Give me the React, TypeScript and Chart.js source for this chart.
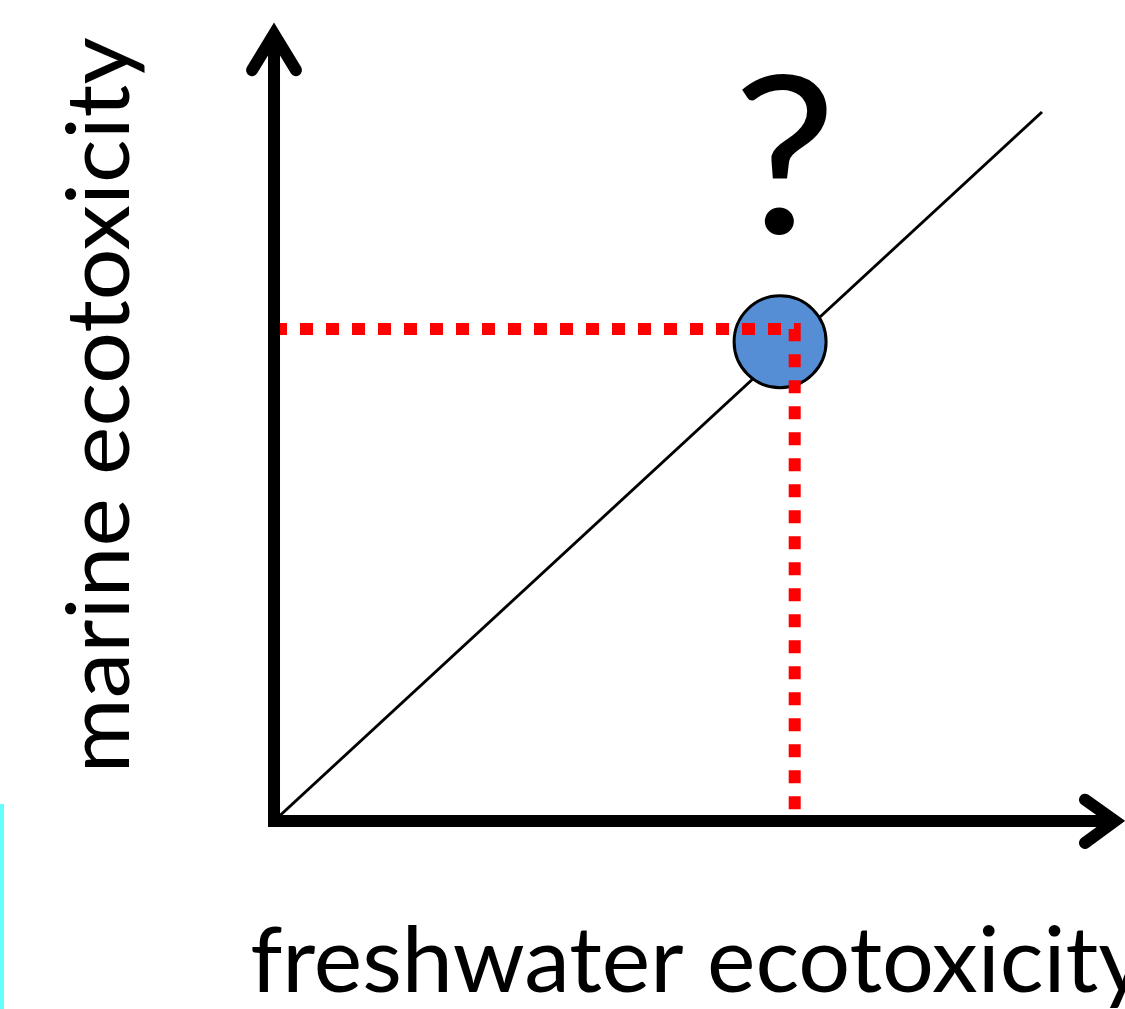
import React, { useEffect, useRef } from "react";
import { Chart, registerables } from "chart.js";

Chart.register(...registerables);

// ---- data (conceptual diagram: marine vs freshwater ecotoxicity) ----
const diagonalX = [0, 10];
const diagonalY = [0, 10];
const pointX = [6.59];
const pointY = [6.76];
const guideX = [0, 6.78, 6.78];
const guideY = [6.94, 6.94, 0];
const axisLineX = [0, 0, 10.95];
const axisLineY = [11.1, 0, 0];
const yArrowX = [-0.286, 0, 0.286];
const yArrowY = [10.59, 11.1, 10.59];
const xArrowX = [10.56, 10.95, 10.56];
const xArrowY = [0.3, 0, -0.31];
const xTitle = "freshwater ecotoxicity";
const yTitle = "marine ecotoxicity";
const annotationText = "?";

const toPts = (xs: number[], ys: number[]) => xs.map((x, i) => ({ x, y: ys[i] }));

const FONT = "Lato, 'Open Sans', sans-serif";

function fitText(
  ctx: CanvasRenderingContext2D,
  text: string,
  width: number,
  ascent: number
) {
  const size = 100;
  ctx.font = `${size}px ${FONT}`;
  ctx.textAlign = "left";
  ctx.textBaseline = "alphabetic";
  const m = ctx.measureText(text);
  const w = m.actualBoundingBoxLeft + m.actualBoundingBoxRight;
  const a = m.actualBoundingBoxAscent;
  ctx.save();
  ctx.scale(width / w, ascent / a);
  ctx.fillText(text, m.actualBoundingBoxLeft, 0);
  ctx.restore();
}

const decorPlugin = {
  id: "decor",
  beforeDraw(chart: any) {
    const ctx = chart.ctx as CanvasRenderingContext2D;
    ctx.save();
    ctx.fillStyle = "#ffffff";
    ctx.fillRect(0, 0, chart.width, chart.height);
    ctx.fillStyle = "#66ffff";
    ctx.fillRect(0, 804, 4, chart.height - 804);
    ctx.restore();
  },
  afterDraw(chart: any) {
    const ctx = chart.ctx as CanvasRenderingContext2D;
    ctx.save();
    ctx.fillStyle = "#000000";
    // x-axis title
    ctx.save();
    ctx.translate(252, 992);
    fitText(ctx, xTitle, 893, 67);
    ctx.restore();
    // y-axis title (rotated)
    ctx.save();
    ctx.translate(129, 767);
    ctx.rotate(-Math.PI / 2);
    fitText(ctx, yTitle, 729, 64);
    ctx.restore();
    // question mark
    ctx.save();
    ctx.translate(742, 233);
    fitText(ctx, annotationText, 86, 163);
    ctx.restore();
    ctx.restore();
  },
};

export default function App() {
  const ref = useRef<HTMLCanvasElement | null>(null);
  useEffect(() => {
    if (!ref.current) return;
    const chart = new Chart(ref.current, {
      type: "scatter",
      data: {
        datasets: [
          {
            label: "axes",
            data: toPts(axisLineX, axisLineY),
            showLine: true,
            borderColor: "#000000",
            borderWidth: 12,
            borderJoinStyle: "miter",
            borderCapStyle: "butt",
            pointRadius: 0,
            clip: false,
            order: 1,
          } as any,
          {
            label: "y arrow",
            data: toPts(yArrowX, yArrowY),
            showLine: true,
            borderColor: "#000000",
            borderWidth: 12,
            borderJoinStyle: "miter",
            borderCapStyle: "round",
            pointRadius: 0,
            clip: false,
            order: 1,
          } as any,
          {
            label: "x arrow",
            data: toPts(xArrowX, xArrowY),
            showLine: true,
            borderColor: "#000000",
            borderWidth: 12,
            borderJoinStyle: "miter",
            borderCapStyle: "round",
            pointRadius: 0,
            clip: false,
            order: 1,
          } as any,
          {
            label: "guides",
            data: toPts(guideX, guideY),
            showLine: true,
            borderColor: "#ff0000",
            borderWidth: 12,
            borderDash: [13, 13],
            borderCapStyle: "butt",
            borderJoinStyle: "miter",
            pointRadius: 0,
            clip: false,
            order: 2,
          } as any,
          {
            label: "substance",
            data: toPts(pointX, pointY),
            showLine: false,
            pointRadius: 46,
            pointHoverRadius: 46,
            pointBackgroundColor: "#558ed5",
            pointBorderColor: "#000000",
            pointBorderWidth: 3,
            pointHoverBorderWidth: 3,
            clip: false,
            order: 3,
          } as any,
          {
            label: "1:1",
            data: toPts(diagonalX, diagonalY),
            showLine: true,
            borderColor: "#000000",
            borderWidth: 3,
            pointRadius: 0,
            clip: false,
            order: 4,
          } as any,
        ],
      },
      options: {
        animation: false,
        responsive: false,
        devicePixelRatio: 1,
        layout: { padding: 0, autoPadding: false },
        events: [],
        plugins: {
          legend: { display: false },
          tooltip: { enabled: false },
          title: { display: false },
        },
        scales: {
          x: { type: "linear", display: false, min: -3.568, max: 11.081 },
          y: { type: "linear", display: false, min: -2.652, max: 11.58 },
        },
      },
      plugins: [decorPlugin],
    });
    return () => chart.destroy();
  }, []);
  return (
    <div style={{ position: "absolute", left: 0, top: 0, width: 1125, height: 1009, background: "#fff" }}>
      <canvas ref={ref} width={1125} height={1009} />
    </div>
  );
}
